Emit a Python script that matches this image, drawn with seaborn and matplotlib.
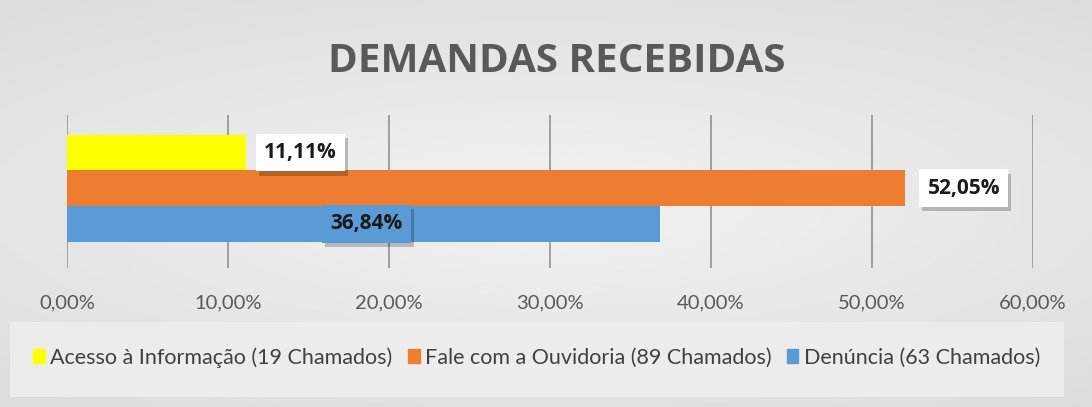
import numpy as np
import pandas as pd
import seaborn as sns
import matplotlib.pyplot as plt
from matplotlib.ticker import FuncFormatter
import matplotlib.patheffects as pe

# Data
categorias = ["Acesso à Informação", "Fale com a Ouvidoria", "Denúncia"]
chamados = [19, 89, 63]
percentuais = [11.11, 52.05, 36.84]
cores = ["#ffff00", "#ed7d31", "#5b9bd5"]
# where Excel put each data label (x, in %)
pos_rotulo = [14.5, 55.7, 18.6]
rotulo_fundo = ["white", "white", "#5b9bd5"]

df = pd.DataFrame({
    "Categoria": categorias,
    "Percentual": percentuais,
})

sns.set_style("white")
plt.rcParams["font.family"] = ["Lato", "DejaVu Sans"]

fig = plt.figure(figsize=(10.92, 4.07), dpi=100)

# Background gradient (light centre, darker edges)
bg = fig.add_axes([0, 0, 1, 1], zorder=-10)
yy, xx = np.mgrid[-1:1:200j, -1:1:400j]
r = np.sqrt(xx ** 2 * 0.6 + yy ** 2)
bg.imshow(0.95 - 0.07 * r, cmap="gray", vmin=0, vmax=1, aspect="auto",
          extent=[0, 1, 0, 1])
bg.set_axis_off()

ax = fig.add_axes([0.0614, 0.342, 0.8846, 0.376])
ax.patch.set_alpha(0)

sns.barplot(
    data=df,
    y="Categoria",
    x="Percentual",
    hue="Categoria",
    palette=cores,
    orient="h",
    width=1.0,
    saturation=1,
    linewidth=0,
    legend=False,
    ax=ax,
)

ax.set_xlim(0, 60)
ax.set_ylim(3.23, -1.06)
ax.set_xticks(range(0, 61, 10))
ax.xaxis.set_major_formatter(FuncFormatter(lambda v, p: f"{v:.2f}".replace(".", ",") + "%"))
ax.grid(axis="x", color="#999999", linewidth=1.3)
ax.set_axisbelow(True)
ax.set_yticks([])
ax.set_xlabel("")
ax.set_ylabel("")
for s in ax.spines.values():
    s.set_visible(False)
ax.tick_params(axis="x", length=0, labelsize=14.5, labelcolor="#595959", pad=19)

# Data labels
for i, v in enumerate(percentuais):
    t = ax.text(
        pos_rotulo[i], i,
        f"{v:.2f}".replace(".", ",") + "%",
        ha="center", va="center",
        fontsize=15, fontweight="bold", color="#1a1a1a",
        family=["Open Sans", "DejaVu Sans"],
        bbox=dict(boxstyle="square,pad=0.4", facecolor=rotulo_fundo[i], edgecolor="none"),
        zorder=5,
    )
    t.get_bbox_patch().set_path_effects([
        pe.withSimplePatchShadow(offset=(2, -3), shadow_rgbFace="black", alpha=0.22),
        pe.Normal(),
    ])

fig.text(0.51, 0.85, "DEMANDAS RECEBIDAS", ha="center", va="center",
         fontsize=29, fontweight="bold", color="#595959",
         family=["Open Sans", "DejaVu Sans"])

# Legend box
fig.patches.append(plt.Rectangle((0.009, 0.025), 0.965, 0.185, transform=fig.transFigure,
                                 facecolor="#ececec", edgecolor="none", zorder=-5))
handles = [plt.Rectangle((0, 0), 1, 1, color=c) for c in cores]
labels = [f"{c} ({n} Chamados)" for c, n in zip(categorias, chamados)]
fig.legend(handles, labels, loc="center", bbox_to_anchor=(0.4915, 0.122), ncol=3,
           frameon=False, fontsize=15.5, labelcolor="#404040",
           handlelength=0.55, handleheight=0.65, handletextpad=0.25, columnspacing=0.7)

plt.savefig("out.png", dpi=100)
